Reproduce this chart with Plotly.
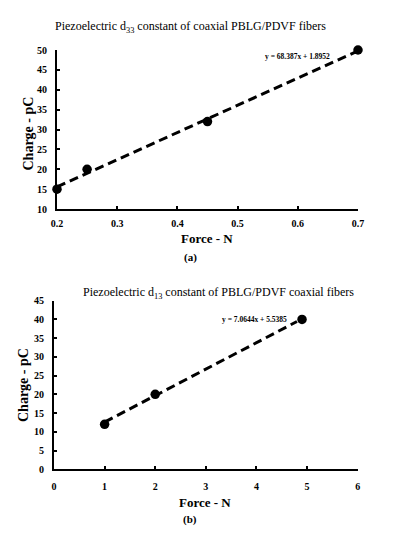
import plotly.graph_objects as go

# Data (a)
force_a = [0.2, 0.25, 0.45, 0.7]
charge_a = [15, 20, 32, 50]
slope_a, icpt_a = 68.387, 1.8952
eq_a = "y = 68.387x + 1.8952"
title_a = "Piezoelectric d<sub>33</sub> constant of coaxial PBLG/PDVF fibers"
xticks_a = [0.2, 0.3, 0.4, 0.5, 0.6, 0.7]
yticks_a = [10, 15, 20, 25, 30, 35, 40, 45, 50]

# Data (b)
force_b = [1, 2, 4.9]
charge_b = [12, 20, 40]
slope_b, icpt_b = 7.0644, 5.5385
eq_b = "y = 7.0644x + 5.5385"
title_b = "Piezoelectric d<sub>13</sub> constant of PBLG/PDVF coaxial fibers"
xticks_b = [0, 1, 2, 3, 4, 5, 6]
yticks_b = [0, 5, 10, 15, 20, 25, 30, 35, 40, 45]

SERIF = "Liberation Serif"

# page body has a default 8px margin; size the figure to fit the window
OFF = 8
PW, PH = 396 - 2 * OFF, 534 - 2 * OFF


def px_x(p):
    return (p - OFF) / PW


def px_y(p):
    return 1 - (p - OFF) / PH


fig = go.Figure()

DASH = dict(color="black", width=3, dash="9px,5px")

tx_a = [force_a[0], force_a[-1]]
fig.add_trace(go.Scatter(x=tx_a, y=[slope_a * v + icpt_a for v in tx_a], mode="lines",
                         line=DASH, xaxis="x", yaxis="y", cliponaxis=False, showlegend=False))
fig.add_trace(go.Scatter(x=force_a, y=charge_a, mode="markers",
                         marker=dict(color="black", size=9.5),
                         xaxis="x", yaxis="y", cliponaxis=False, showlegend=False))

tx_b = [force_b[0], force_b[-1] - 0.1]
fig.add_trace(go.Scatter(x=tx_b, y=[slope_b * v + icpt_b for v in tx_b], mode="lines",
                         line=DASH, xaxis="x2", yaxis="y2", cliponaxis=False, showlegend=False))
fig.add_trace(go.Scatter(x=force_b, y=charge_b, mode="markers",
                         marker=dict(color="black", size=9.5),
                         xaxis="x2", yaxis="y2", cliponaxis=False, showlegend=False))

axis_common = dict(showgrid=False, zeroline=False, showline=True, linecolor="black",
                   linewidth=2, ticks="inside", ticklen=3, tickwidth=1.5, tickcolor="black",
                   automargin=False,
                   tickfont=dict(family=SERIF, size=10, color="black", weight="bold"))

fig.update_layout(
    width=PW, height=PH,
    margin=dict(l=0, r=0, t=0, b=0, pad=0),
    paper_bgcolor="white", plot_bgcolor="white",
    xaxis=dict(domain=[px_x(57), px_x(358)], range=[0.2, 0.7], tickvals=xticks_a,
               ticktext=[f"{v:.1f}" for v in xticks_a], anchor="y",
               ticklabelstandoff=4, **axis_common),
    yaxis=dict(domain=[px_y(209), px_y(50)], range=[10, 50], tickvals=yticks_a,
               anchor="x", ticklabelstandoff=6, **axis_common),
    xaxis2=dict(domain=[px_x(54), px_x(357.7)], range=[0, 6], tickvals=xticks_b,
                anchor="y2", ticklabelstandoff=7, **axis_common),
    yaxis2=dict(domain=[px_y(469.3), px_y(300.7)], range=[0, 45], tickvals=yticks_b,
                anchor="x2", ticklabelstandoff=6, **axis_common),
)

ann = []


def A(text, x, y, size, bold=False, angle=0):
    ann.append(dict(text=text, x=px_x(x), y=px_y(y), xref="paper", yref="paper",
                    showarrow=False, xanchor="center", yanchor="middle", textangle=angle,
                    font=dict(family=SERIF, size=size, color="black",
                              weight="bold" if bold else "normal")))


A(title_a, 190, 27, 12)
A(eq_a, 297, 56, 7.5, bold=True)
A("Force - N", 207, 238, 13, bold=True)
A("(a)", 190, 258, 11, bold=True)
A("Charge - pC", 28, 133.5, 14, bold=True, angle=-90)

A(title_b, 218, 293, 12)
A(eq_b, 254, 319, 7.5, bold=True)
A("Force - N", 205, 502, 13, bold=True)
A("(b)", 190, 519, 11, bold=True)
A("Charge - pC", 23, 385, 14, bold=True, angle=-90)

fig.update_layout(annotations=ann)
fig.write_html("out.html")
